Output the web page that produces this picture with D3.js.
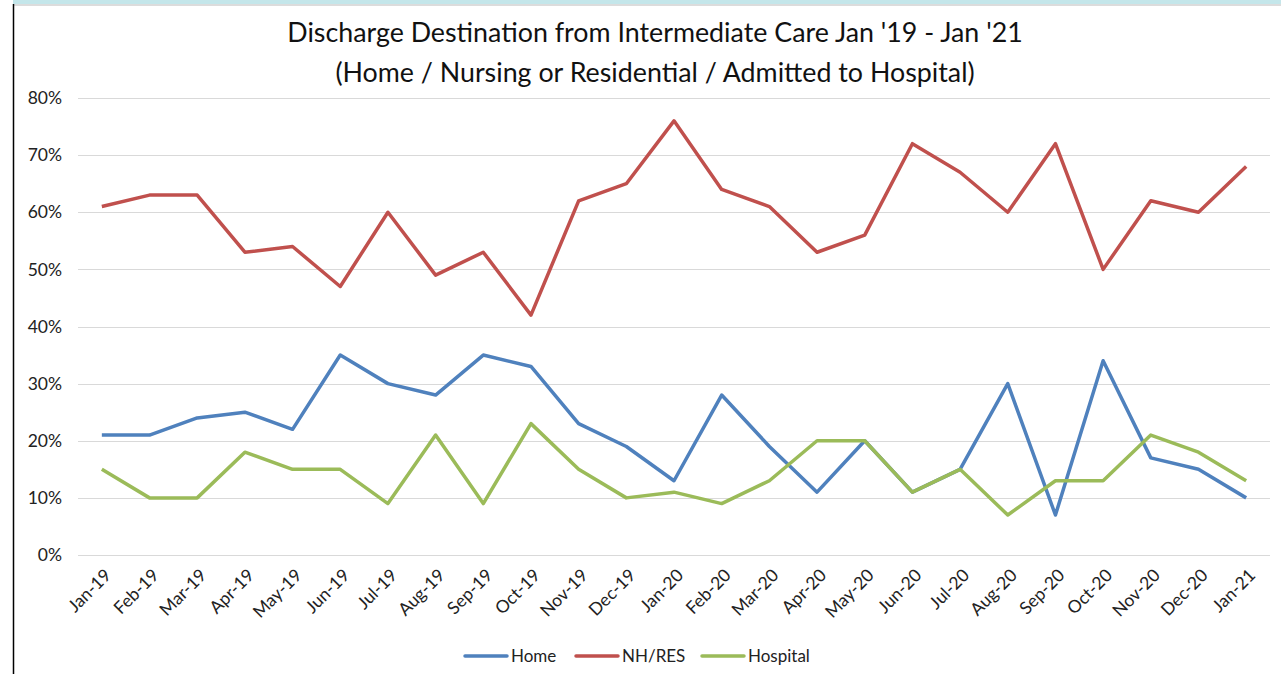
<!DOCTYPE html>
<html>
<head>
<meta charset="utf-8">
<script src="https://cdn.jsdelivr.net/npm/d3@7"></script>
<style>
  body { margin: 0; background: #fff; }
  svg { display: block; font-family: Lato, 'Open Sans', sans-serif; }
</style>
</head>
<body>
<div id="chart"></div>
<script>
const months = ['Jan-19','Feb-19','Mar-19','Apr-19','May-19','Jun-19','Jul-19','Aug-19','Sep-19','Oct-19','Nov-19','Dec-19',
  'Jan-20','Feb-20','Mar-20','Apr-20','May-20','Jun-20','Jul-20','Aug-20','Sep-20','Oct-20','Nov-20','Dec-20','Jan-21'];

const home = [21,21,24,25,22,35,30,28,35,33,23,19,13,28,19,11,20,11,15,30,7,34,17,15,10];
const nhres = [61,63,63,53,54,47,60,49,53,42,62,65,76,64,61,53,56,72,67,60,72,50,62,60,68];
const hospital = [15,10,10,18,15,15,9,21,9,23,15,10,11,9,13,20,20,11,15,7,13,13,21,18,13];

const yTicks = [0,10,20,30,40,50,60,70,80];

const series = [
  { name: 'Home', values: home, color: '#4f81bd' },
  { name: 'NH/RES', values: nhres, color: '#c0504d' },
  { name: 'Hospital', values: hospital, color: '#9bbb59' }
];

const W = 1281, H = 674;
const plotL = 78, plotR = 1270, plotT = 98, plotB = 555;

const svg = d3.select('#chart')
  .append('svg')
  .attr('width', W)
  .attr('height', H);

// frame bits from the screenshot
svg.append('rect').attr('x', 13).attr('y', 0).attr('width', W - 13).attr('height', 4).attr('fill', '#c4e6ea');
svg.append('rect').attr('x', 13).attr('y', 4).attr('width', W - 13).attr('height', 2).attr('fill', '#dcdcdc');
svg.append('line').attr('x1', 13.5).attr('x2', 13.5).attr('y1', 4).attr('y2', H).attr('stroke', '#000').attr('stroke-width', 1.5);

const x = d3.scalePoint()
  .domain(months)
  .range([plotL, plotR])
  .padding(0.5);

const y = d3.scaleLinear()
  .domain([0, 80])
  .range([plotB, plotT]);

// gridlines
svg.append('g')
  .selectAll('line')
  .data(yTicks)
  .enter()
  .append('line')
  .attr('x1', plotL)
  .attr('x2', plotR)
  .attr('y1', d => Math.round(y(d)) + 0.5)
  .attr('y2', d => Math.round(y(d)) + 0.5)
  .attr('stroke', '#d9d9d9')
  .attr('stroke-width', 1);

// y labels
svg.append('g')
  .selectAll('text')
  .data(yTicks)
  .enter()
  .append('text')
  .attr('x', 62)
  .attr('y', d => y(d))
  .attr('dy', '0.35em')
  .attr('text-anchor', 'end')
  .attr('font-size', 17.5)
  .attr('fill', '#222')
  .text(d => d + '%');

// x labels
svg.append('g')
  .selectAll('text')
  .data(months)
  .enter()
  .append('text')
  .attr('transform', d => `translate(${x(d) + 6}, 572) rotate(-45)`)
  .attr('text-anchor', 'end')
  .attr('dy', '0.35em')
  .attr('font-size', 17.5)
  .attr('fill', '#222')
  .text(d => d);

const line = d3.line()
  .x((d, i) => x(months[i]))
  .y(d => y(d));

svg.append('g')
  .selectAll('path')
  .data(series)
  .enter()
  .append('path')
  .attr('d', d => line(d.values))
  .attr('fill', 'none')
  .attr('stroke', d => d.color)
  .attr('stroke-width', 3.5)
  .attr('stroke-linejoin', 'round');

// title
const title = svg.append('text')
  .attr('x', 655)
  .attr('text-anchor', 'middle')
  .attr('font-size', 26.8)
  .attr('fill', '#111');

title.append('tspan').attr('x', 655).attr('y', 42).text("Discharge Destination from Intermediate Care Jan '19 - Jan '21");
title.append('tspan').attr('x', 655).attr('y', 82).text('(Home / Nursing or Residential / Admitted to Hospital)');

// legend
const legendX = [465, 576, 702];
const legend = svg.append('g')
  .selectAll('g')
  .data(series)
  .enter()
  .append('g')
  .attr('transform', (d, i) => `translate(${legendX[i]}, 656)`);

legend.append('line')
  .attr('x1', 0)
  .attr('x2', 42)
  .attr('stroke', d => d.color)
  .attr('stroke-width', 3.5)
  .attr('stroke-linecap', 'round');

legend.append('text')
  .attr('x', 46)
  .attr('dy', '0.35em')
  .attr('font-size', 17)
  .attr('fill', '#222')
  .text(d => d.name);
</script>
</body>
</html>
